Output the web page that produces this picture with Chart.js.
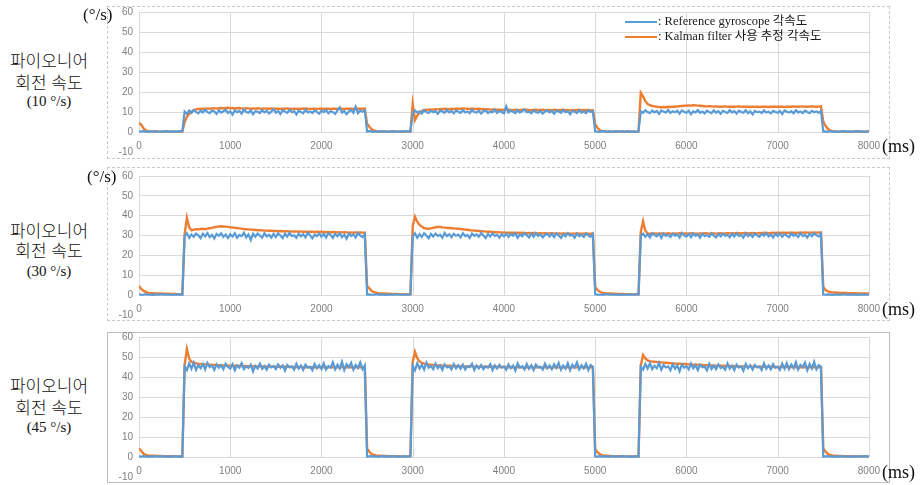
<!DOCTYPE html>
<html lang="ko">
<head>
<meta charset="utf-8">
<title>파이오니어 회전 속도</title>
<script src="https://cdn.jsdelivr.net/npm/chart.js@4.4.1/dist/chart.umd.min.js"></script>
<style>
  html, body { margin: 0; padding: 0; background: #fff; }
  body { width: 922px; height: 485px; position: relative; overflow: hidden; }
  .frame { position: absolute; left: 107px; width: 783px; border: 1px dashed #c8c8c8; box-sizing: border-box; }
  .frame.solid { border-style: solid; border-color: #bdbdbd; }
  canvas { position: absolute; left: 108px; }
  .txt { position: absolute; white-space: nowrap; line-height: 20px; color: #111; }
  .ko { left: 0; width: 98px; text-align: center; font-family: "Noto Sans CJK KR", sans-serif; font-size: 17px; font-weight: 300; }
  .rate { left: 0; width: 98px; text-align: center; font-family: "Liberation Serif", serif; font-size: 15px; }
  .unit { font-family: "Liberation Serif", serif; font-size: 17px; }
  .ms { left: 882px; font-size: 18px; }
  .key { position: absolute; left: 625px; width: 32px; height: 2px; }
  .keytxt { position: absolute; left: 658px; line-height: 16px; font-family: "Liberation Serif", "Noto Sans CJK KR", serif; font-size: 12.5px; color: #1a1a1a; white-space: nowrap; }
</style>
</head>
<body>

<div class="frame" style="top:6px;height:153px"></div>
<div class="frame" style="top:167px;height:154px"></div>
<div class="frame solid" style="top:332px;height:151px"></div>

<canvas id="chart10" width="780" height="164" style="top:0px"></canvas>
<canvas id="chart30" width="780" height="163" style="top:164px"></canvas>
<canvas id="chart45" width="780" height="164" style="top:325px"></canvas>

<div class="txt ko" style="top:50px">파이오니어</div>
<div class="txt ko" style="top:72px">회전 속도</div>
<div class="txt rate" style="top:91px">(10 °/s)</div>
<div class="txt ko" style="top:220px">파이오니어</div>
<div class="txt ko" style="top:240px">회전 속도</div>
<div class="txt rate" style="top:261px">(30 °/s)</div>
<div class="txt ko" style="top:375px">파이오니어</div>
<div class="txt ko" style="top:397px">회전 속도</div>
<div class="txt rate" style="top:417px">(45 °/s)</div>

<div class="txt unit" style="left:83px;top:5px">(°/s)</div>
<div class="txt unit" style="left:87px;top:167px">(°/s)</div>
<div class="txt unit ms" style="top:136px">(ms)</div>
<div class="txt unit ms" style="top:299px">(ms)</div>
<div class="txt unit ms" style="top:462px">(ms)</div>

<div class="key" id="key0" style="top:21px"></div>
<div class="key" id="key1" style="top:36px"></div>
<div class="keytxt" id="keytxt0" style="top:13px"></div>
<div class="keytxt" id="keytxt1" style="top:28px"></div>

<script>
// sample times (ms), one row = 500 ms
const timeMs = [
  0,25,50,75,100,125,150,175,200,225,250,275,300,325,350,375,400,425,450,475,
  500,525,550,575,600,625,650,675,700,725,750,775,800,825,850,875,900,925,950,975,
  1000,1025,1050,1075,1100,1125,1150,1175,1200,1225,1250,1275,1300,1325,1350,1375,1400,1425,1450,1475,
  1500,1525,1550,1575,1600,1625,1650,1675,1700,1725,1750,1775,1800,1825,1850,1875,1900,1925,1950,1975,
  2000,2025,2050,2075,2100,2125,2150,2175,2200,2225,2250,2275,2300,2325,2350,2375,2400,2425,2450,2475,
  2500,2525,2550,2575,2600,2625,2650,2675,2700,2725,2750,2775,2800,2825,2850,2875,2900,2925,2950,2975,
  3000,3025,3050,3075,3100,3125,3150,3175,3200,3225,3250,3275,3300,3325,3350,3375,3400,3425,3450,3475,
  3500,3525,3550,3575,3600,3625,3650,3675,3700,3725,3750,3775,3800,3825,3850,3875,3900,3925,3950,3975,
  4000,4025,4050,4075,4100,4125,4150,4175,4200,4225,4250,4275,4300,4325,4350,4375,4400,4425,4450,4475,
  4500,4525,4550,4575,4600,4625,4650,4675,4700,4725,4750,4775,4800,4825,4850,4875,4900,4925,4950,4975,
  5000,5025,5050,5075,5100,5125,5150,5175,5200,5225,5250,5275,5300,5325,5350,5375,5400,5425,5450,5475,
  5500,5525,5550,5575,5600,5625,5650,5675,5700,5725,5750,5775,5800,5825,5850,5875,5900,5925,5950,5975,
  6000,6025,6050,6075,6100,6125,6150,6175,6200,6225,6250,6275,6300,6325,6350,6375,6400,6425,6450,6475,
  6500,6525,6550,6575,6600,6625,6650,6675,6700,6725,6750,6775,6800,6825,6850,6875,6900,6925,6950,6975,
  7000,7025,7050,7075,7100,7125,7150,7175,7200,7225,7250,7275,7300,7325,7350,7375,7400,7425,7450,7475,
  7500,7525,7550,7575,7600,7625,7650,7675,7700,7725,7750,7775,7800,7825,7850,7875,7900,7925,7950,7975,
  8000
];

const seriesNames = [': Reference gyroscope 각속도', ': Kalman filter 사용 추정 각속도'];
const yTicks = [-10, 0, 10, 20, 30, 40, 50, 60];

// 10 deg/s run
const gyro10 = [
  0.3,0.2,0.4,0.1,0.3,0.2,0.3,0.4,0.2,0.1,0.3,0.2,0.4,0.3,0.1,0.2,0.3,0.2,0.4,0.3,
  10.2,9.1,10.8,9.6,11.0,10.1,9.3,10.6,9.8,11.2,10.0,9.4,10.7,10.3,9.0,10.9,9.7,10.4,11.1,9.5,
  10.3,8.7,10.9,9.9,10.5,9.2,11.3,10.0,9.6,10.8,8.9,10.4,10.1,9.5,11.0,9.8,10.6,9.3,10.2,11.4,
  9.7,10.5,9.0,10.9,10.2,9.6,11.1,9.9,10.4,8.8,10.7,10.0,9.4,11.2,9.8,10.3,9.5,10.8,10.1,9.2,
  10.6,9.9,11.0,9.3,10.4,10.0,9.1,10.8,12.3,9.7,10.5,8.9,10.2,11.1,9.6,12.6,9.4,10.7,10.1,10.9,
  0.2,0.4,0.3,0.1,0.3,0.2,0.4,0.2,0.3,0.1,0.2,0.4,0.3,0.2,0.1,0.3,0.2,0.4,0.3,0.2,
  9.4,10.8,9.7,10.3,9.2,10.9,10.0,9.5,10.6,9.9,10.4,9.1,10.7,10.2,9.6,11.0,9.8,10.5,9.3,10.8,
  10.1,9.6,10.9,9.8,10.3,9.4,11.1,10.0,9.7,10.6,9.2,10.4,10.8,9.5,10.2,9.9,11.2,9.6,10.5,10.0,
  9.3,12.8,9.8,10.7,10.1,9.5,10.9,9.7,10.4,11.3,9.9,10.2,9.4,10.8,10.0,9.6,10.6,9.2,10.3,10.9,
  9.8,10.5,9.1,10.7,10.2,9.6,11.0,9.9,10.4,8.8,10.6,10.1,9.5,10.9,9.7,10.3,9.4,10.8,10.0,10.5,
  0.3,0.2,0.1,0.3,0.4,0.2,0.3,0.1,0.2,0.4,0.3,0.2,0.3,0.1,0.4,0.2,0.3,0.2,0.1,0.3,
  10.3,9.6,10.9,10.0,9.4,10.7,9.8,10.5,9.1,10.8,10.2,9.7,11.0,9.5,10.4,9.9,10.6,9.2,10.8,10.1,
  9.5,10.6,8.9,10.3,9.8,10.9,9.6,10.2,9.3,10.7,10.0,9.4,10.8,9.7,10.4,9.1,10.6,10.0,9.5,10.9,
  9.8,10.4,9.2,10.7,10.0,9.6,10.9,9.4,10.3,8.8,10.5,9.9,10.2,9.5,10.8,9.7,10.1,9.3,10.6,10.0,
  9.6,10.5,9.0,10.8,10.1,9.7,10.4,9.3,10.9,9.8,10.2,9.5,10.7,10.0,9.4,10.6,9.9,10.3,9.6,10.5,
  0.2,0.3,0.1,0.4,0.2,0.3,0.2,0.1,0.3,0.4,0.2,0.3,0.1,0.2,0.3,0.4,0.2,0.3,0.1,0.2,
  0.3
];
const kalman10 = [
  4.6,3.6,1.8,0.8,0.4,0.3,0.2,0.2,0.3,0.2,0.2,0.1,0.2,0.2,0.3,0.2,0.2,0.1,0.2,0.2,
  5.0,7.6,9.1,10.2,10.9,11.3,11.5,11.6,11.5,11.7,11.8,11.6,11.8,11.9,11.7,11.9,12.0,11.8,12.0,12.1,
  11.9,12.0,11.8,11.9,12.0,11.8,11.7,11.9,11.8,11.6,11.8,11.7,11.9,11.7,11.6,11.8,11.7,11.6,11.8,11.7,
  11.6,11.7,11.5,11.7,11.6,11.8,11.6,11.5,11.7,11.6,11.5,11.7,11.6,11.8,11.6,11.5,11.7,11.6,11.5,11.7,
  11.6,11.5,11.7,11.6,11.5,11.6,11.7,11.5,11.8,11.6,11.5,11.7,11.6,11.7,11.5,11.8,11.6,11.7,11.6,11.7,
  4.2,2.6,1.3,0.7,0.4,0.3,0.2,0.2,0.3,0.2,0.1,0.2,0.2,0.3,0.2,0.2,0.1,0.2,0.2,0.3,
  14.0,6.0,8.2,9.6,10.5,11.0,11.2,11.1,11.3,11.2,11.4,11.3,11.5,11.4,11.6,11.5,11.4,11.6,11.5,11.6,
  11.7,11.6,11.8,11.7,11.6,11.5,11.7,11.6,11.5,11.6,11.4,11.5,11.3,11.4,11.2,11.3,11.1,11.2,11.1,11.0,
  11.1,11.0,11.2,11.0,10.9,11.1,11.0,10.9,11.1,11.0,11.2,11.0,10.9,11.0,11.1,10.9,11.0,11.1,10.9,11.0,
  11.0,10.9,11.1,11.0,10.9,11.0,11.1,10.9,11.0,10.8,11.0,10.9,11.0,11.1,10.9,11.0,10.9,11.0,10.8,10.9,
  4.0,2.1,1.0,0.5,0.3,0.2,0.2,0.3,0.2,0.1,0.2,0.2,0.3,0.2,0.2,0.1,0.2,0.3,0.2,0.2,
  19.6,17.8,15.4,14.0,13.4,13.0,12.8,12.6,12.5,12.4,12.5,12.4,12.6,12.5,12.7,12.6,12.8,12.9,13.0,13.1,
  13.2,13.3,13.2,13.4,13.3,13.2,13.1,13.0,12.9,12.8,12.9,12.8,12.7,12.8,12.7,12.6,12.7,12.8,12.7,12.6,
  12.7,12.6,12.7,12.8,12.7,12.6,12.7,12.6,12.5,12.6,12.7,12.6,12.5,12.6,12.7,12.6,12.5,12.6,12.7,12.6,
  12.6,12.7,12.6,12.5,12.6,12.7,12.6,12.8,12.7,12.6,12.7,12.8,12.7,12.6,12.7,12.8,12.7,12.6,12.7,12.8,
  5.2,3.1,1.6,0.8,0.4,0.3,0.2,0.2,0.3,0.2,0.2,0.1,0.2,0.2,0.3,0.2,0.1,0.2,0.2,0.3,
  0.2
];

// 30 deg/s run
const gyro30 = [
  0.4,0.2,0.3,0.5,0.2,0.3,0.1,0.4,0.3,0.2,0.5,0.3,0.2,0.4,0.1,0.3,0.2,0.4,0.3,0.2,
  29.8,31.2,28.9,30.6,29.4,31.0,30.1,28.7,30.9,29.6,31.3,29.2,30.4,28.5,30.8,29.9,31.1,29.3,30.5,28.8,
  30.7,29.5,31.2,28.9,30.3,29.7,31.4,29.1,30.6,27.8,30.9,29.4,31.0,30.0,28.9,31.2,29.6,30.4,29.0,30.8,
  29.3,31.1,30.0,28.7,30.9,29.5,31.3,29.8,30.2,28.9,31.0,29.6,30.7,29.1,31.4,30.1,28.6,30.5,29.7,31.0,
  29.4,30.8,29.0,31.2,30.3,28.8,30.9,29.6,31.1,29.2,30.5,28.4,31.0,29.8,30.6,29.1,31.3,30.0,29.3,30.7,
  0.3,0.4,0.2,0.3,0.5,0.2,0.4,0.3,0.1,0.3,0.4,0.2,0.3,0.5,0.2,0.3,0.4,0.2,0.3,0.4,
  29.6,31.1,28.9,30.7,29.3,31.2,30.0,28.6,30.8,29.5,31.0,29.8,30.4,28.9,31.3,29.7,30.6,29.2,30.9,29.9,
  30.5,29.1,31.2,29.7,30.3,28.8,31.0,29.9,30.6,29.4,31.3,30.0,28.7,30.8,29.5,31.1,29.8,30.4,29.0,30.7,
  29.6,31.0,29.3,30.8,29.9,31.2,28.9,30.5,29.7,31.1,30.2,29.0,30.9,29.4,31.3,29.8,30.6,29.1,30.3,31.0,
  29.5,30.9,29.2,31.1,30.0,28.8,30.7,29.6,31.2,29.9,30.4,28.9,31.0,29.7,30.5,29.3,31.1,30.0,29.4,30.8,
  0.4,0.3,0.2,0.4,0.3,0.5,0.2,0.3,0.4,0.2,0.3,0.1,0.4,0.3,0.2,0.4,0.3,0.2,0.5,0.3,
  29.9,31.0,29.4,30.7,29.1,31.2,30.2,29.6,30.9,28.8,31.1,29.8,30.4,29.3,31.0,29.9,30.6,29.0,31.3,30.1,
  29.5,30.8,29.2,31.1,29.9,30.5,28.9,31.0,29.7,30.3,29.4,31.2,30.0,29.1,30.8,29.6,31.0,29.8,30.4,29.2,
  30.9,29.5,31.1,29.8,30.3,29.0,31.2,29.7,30.6,29.3,31.0,30.1,29.4,30.8,29.9,31.3,29.6,30.5,29.1,30.9,
  29.8,31.0,29.4,30.7,30.0,29.2,31.1,29.9,30.5,29.3,31.2,29.7,30.4,29.0,30.9,29.6,31.1,30.2,29.5,31.0,
  0.3,0.2,0.4,0.3,0.1,0.3,0.4,0.2,0.3,0.5,0.2,0.3,0.4,0.2,0.3,0.1,0.4,0.3,0.2,0.3,
  0.3
];
const kalman30 = [
  4.6,3.1,2.1,1.6,1.3,1.1,1.0,0.9,0.9,0.8,0.8,0.7,0.7,0.7,0.6,0.6,0.6,0.5,0.5,0.5,
  30.5,39.0,34.2,32.6,33.0,33.2,33.1,33.3,33.4,33.2,33.5,33.7,33.9,34.2,34.4,34.6,34.7,34.6,34.5,34.4,
  34.2,34.1,33.9,33.8,33.6,33.5,33.3,33.2,33.1,33.0,32.9,32.8,32.7,32.7,32.6,32.5,32.5,32.4,32.4,32.3,
  32.3,32.2,32.3,32.2,32.1,32.2,32.1,32.0,32.1,32.0,32.1,32.0,31.9,32.0,31.9,32.0,31.9,31.8,31.9,31.8,
  31.9,31.8,31.7,31.8,31.7,31.8,31.7,31.6,31.7,31.6,31.7,31.6,31.5,31.6,31.5,31.6,31.5,31.6,31.5,31.5,
  4.6,3.4,2.1,1.5,1.2,1.0,0.9,0.8,0.8,0.7,0.7,0.6,0.6,0.6,0.5,0.5,0.5,0.5,0.4,0.4,
  34.8,39.5,37.0,35.4,34.5,33.8,33.5,33.4,33.6,33.9,34.2,34.4,34.3,34.1,34.0,33.9,33.8,33.7,33.6,33.5,
  33.4,33.3,33.2,33.0,32.9,32.7,32.6,32.5,32.4,32.3,32.2,32.1,32.0,31.9,31.9,31.8,31.7,31.7,31.6,31.6,
  31.5,31.5,31.4,31.5,31.4,31.3,31.4,31.3,31.4,31.3,31.2,31.3,31.2,31.3,31.2,31.1,31.2,31.1,31.2,31.1,
  31.1,31.2,31.1,31.0,31.1,31.0,31.1,31.0,31.1,31.0,30.9,31.0,31.1,31.0,30.9,31.0,31.1,31.0,30.9,31.0,
  4.2,2.6,1.7,1.3,1.1,0.9,0.8,0.8,0.7,0.7,0.6,0.6,0.6,0.5,0.5,0.5,0.5,0.4,0.4,0.4,
  31.8,37.2,32.4,31.0,30.9,31.0,31.1,30.9,31.0,31.1,30.9,31.0,31.2,31.0,30.9,31.1,31.0,31.2,31.1,31.0,
  31.1,31.0,31.2,31.1,31.0,30.9,31.1,31.0,31.2,31.1,31.0,31.2,31.1,31.0,31.1,31.2,31.0,31.1,31.2,31.1,
  31.2,31.1,31.3,31.2,31.1,31.2,31.3,31.1,31.2,31.3,31.2,31.1,31.3,31.2,31.4,31.3,31.2,31.3,31.4,31.3,
  31.4,31.3,31.5,31.4,31.3,31.4,31.5,31.4,31.3,31.5,31.4,31.5,31.6,31.5,31.4,31.5,31.6,31.5,31.6,31.5,
  4.1,2.6,1.9,1.6,1.4,1.3,1.2,1.2,1.1,1.1,1.1,1.0,1.0,1.0,1.0,0.9,0.9,0.9,0.9,0.9,
  0.9
];

// 45 deg/s run
const gyro45 = [
  0.3,0.2,0.4,0.3,0.1,0.3,0.2,0.4,0.3,0.2,0.3,0.4,0.2,0.3,0.1,0.3,0.4,0.2,0.3,0.2,
  45.2,43.4,46.8,44.1,47.2,43.6,45.9,44.4,46.5,43.8,47.0,44.9,45.7,43.5,46.3,44.6,45.9,43.9,46.6,45.0,
  44.2,46.4,43.3,45.8,44.7,46.9,43.9,45.3,44.5,46.2,42.8,45.6,44.3,46.7,44.0,45.4,43.6,46.1,44.8,45.5,
  43.9,46.3,44.6,45.8,43.2,46.0,44.9,45.3,43.7,46.6,44.2,45.7,43.5,46.2,44.8,45.1,43.4,46.5,44.4,45.9,
  44.0,46.8,43.6,45.5,44.7,47.4,43.8,46.1,44.3,47.6,43.5,46.4,44.9,47.1,43.7,46.0,44.5,47.3,43.9,45.8,
  0.2,0.3,0.4,0.2,0.3,0.1,0.3,0.4,0.2,0.3,0.2,0.4,0.3,0.2,0.3,0.1,0.4,0.2,0.3,0.3,
  45.6,43.3,46.9,44.2,46.1,43.7,47.2,44.6,45.5,43.9,46.7,44.4,45.8,43.6,46.3,44.8,45.2,43.8,46.5,44.3,
  45.9,44.1,46.2,43.7,45.4,44.9,46.6,43.5,45.7,44.3,46.0,43.9,45.3,44.6,46.4,43.4,45.8,44.2,46.1,44.7,
  45.2,43.6,46.3,44.4,45.7,43.2,46.8,44.7,45.4,43.8,46.5,44.1,45.9,43.5,46.2,44.9,45.1,43.7,46.7,44.3,
  45.8,43.9,46.4,44.5,47.0,43.6,45.7,44.2,46.9,43.4,46.1,44.7,47.3,43.8,45.9,44.3,46.6,43.5,46.0,45.1,
  0.3,0.2,0.4,0.3,0.2,0.3,0.1,0.4,0.2,0.3,0.3,0.2,0.4,0.3,0.2,0.3,0.1,0.3,0.4,0.2,
  45.0,43.7,46.5,44.2,46.9,43.9,45.6,44.4,47.1,43.6,46.0,44.8,45.3,43.4,46.4,44.1,45.8,42.9,46.2,44.6,
  45.4,43.8,46.7,44.3,45.9,43.5,46.1,44.9,45.2,43.3,46.6,44.0,45.7,43.9,46.3,44.5,45.1,43.6,46.8,44.2,
  45.6,43.4,46.2,44.7,45.3,43.1,46.5,44.4,45.9,43.7,46.0,44.8,45.2,43.5,46.9,44.1,45.7,43.8,46.4,44.6,
  45.1,43.6,46.7,44.2,47.0,43.9,46.3,44.5,47.4,43.7,46.1,44.9,47.2,43.4,46.5,44.3,47.6,43.8,46.0,45.2,
  0.2,0.3,0.4,0.2,0.3,0.1,0.3,0.2,0.4,0.3,0.2,0.3,0.1,0.4,0.2,0.3,0.3,0.2,0.4,0.3,
  0.2
];
const kalman45 = [
  4.2,3.0,1.6,1.0,0.8,0.7,0.6,0.6,0.5,0.5,0.5,0.4,0.4,0.4,0.4,0.3,0.3,0.3,0.3,0.3,
  46.0,54.0,49.2,47.6,47.0,46.8,46.6,46.5,46.4,46.3,46.2,46.1,46.0,46.0,45.9,45.9,45.8,45.8,45.7,45.7,
  45.7,45.6,45.6,45.6,45.5,45.5,45.5,45.4,45.4,45.4,45.4,45.3,45.3,45.3,45.3,45.3,45.2,45.2,45.2,45.2,
  45.2,45.1,45.1,45.1,45.1,45.1,45.0,45.0,45.0,45.0,45.0,45.0,44.9,44.9,44.9,44.9,44.9,44.9,44.9,44.9,
  44.9,44.8,44.9,44.8,44.9,44.8,44.9,44.8,44.9,44.8,44.9,44.8,44.9,44.8,44.9,44.8,44.9,44.8,44.9,44.8,
  4.1,2.6,1.5,1.0,0.8,0.7,0.6,0.5,0.5,0.5,0.4,0.4,0.4,0.4,0.3,0.3,0.3,0.3,0.3,0.3,
  47.6,52.6,49.4,47.8,47.1,46.7,46.4,46.2,46.1,46.0,45.9,45.8,45.8,45.7,45.7,45.6,45.6,45.5,45.5,45.5,
  45.4,45.4,45.4,45.3,45.3,45.3,45.3,45.2,45.2,45.2,45.2,45.1,45.1,45.1,45.1,45.1,45.0,45.0,45.0,45.0,
  45.0,45.0,44.9,44.9,44.9,44.9,44.9,44.9,44.9,44.8,44.8,44.8,44.8,44.8,44.8,44.8,44.8,44.8,44.8,44.8,
  44.8,44.8,44.8,44.8,44.8,44.8,44.8,44.8,44.8,44.8,44.8,44.8,44.8,44.8,44.8,44.8,44.8,44.8,44.8,44.8,
  4.0,2.4,1.4,0.9,0.7,0.6,0.5,0.5,0.4,0.4,0.4,0.4,0.3,0.3,0.3,0.3,0.3,0.3,0.3,0.3,
  45.8,51.0,49.3,48.3,47.9,47.7,47.6,47.5,47.4,47.3,47.2,47.1,47.0,46.9,46.8,46.7,46.6,46.6,46.5,46.5,
  46.4,46.3,46.3,46.2,46.1,46.1,46.0,46.0,45.9,45.9,45.8,45.8,45.7,45.7,45.6,45.6,45.6,45.5,45.5,45.5,
  45.4,45.4,45.4,45.3,45.3,45.3,45.3,45.2,45.2,45.2,45.2,45.2,45.1,45.1,45.1,45.1,45.1,45.1,45.0,45.0,
  45.0,45.0,45.0,45.0,45.0,45.0,45.0,44.9,44.9,44.9,44.9,44.9,44.9,44.9,44.9,44.9,44.9,44.9,44.9,44.9,
  4.3,2.7,1.6,1.0,0.8,0.7,0.6,0.5,0.5,0.4,0.4,0.4,0.4,0.3,0.3,0.3,0.3,0.3,0.3,0.3,
  0.3
];

const BLUE = '#5b9bd5';
const ORANGE = '#ed7d31';
const GRID = '#d9d9d9';
const TICK = '#808080';

// legend drawn as html above the first chart
[BLUE, ORANGE].forEach((c, i) => {
  document.getElementById('key' + i).style.background = c;
  document.getElementById('keytxt' + i).textContent = seriesNames[i];
});

// vertical grid lines only run from the top down to the zero line
const timeGrid = {
  id: 'timeGrid',
  beforeDatasetsDraw(chart) {
    const { ctx, chartArea, scales: { x, y } } = chart;
    const zero = Math.round(y.getPixelForValue(0));
    ctx.save();
    ctx.strokeStyle = GRID;
    ctx.lineWidth = 1;
    ctx.beginPath();
    x.ticks.forEach(t => {
      const px = Math.round(x.getPixelForValue(t.value)) + 0.5;
      ctx.moveTo(px, chartArea.top);
      ctx.lineTo(px, zero);
    });
    ctx.stroke();
    ctx.restore();
  }
};

function points(values) {
  return timeMs.map((t, i) => ({ x: t, y: values[i] }));
}

function makeChart(id, gyro, kalman) {
  return new Chart(id, {
    type: 'line',
    data: {
      datasets: [{
        label: seriesNames[0],
        data: points(gyro),
        borderColor: BLUE,
        borderWidth: 2.2,
        pointRadius: 0,
        tension: 0
      }, {
        label: seriesNames[1],
        data: points(kalman),
        borderColor: ORANGE,
        borderWidth: 2.4,
        pointRadius: 0,
        tension: 0
      }]
    },
    options: {
      responsive: false,
      animation: false,
      devicePixelRatio: 1,
      layout: { padding: { top: 12, bottom: 12, left: 0, right: 18 } },
      plugins: { legend: { display: false }, tooltip: { enabled: false } },
      scales: {
        x: {
          type: 'linear',
          position: { y: 0 },
          min: 0,
          max: 8000,
          ticks: {
            stepSize: 1000,
            padding: 8,
            color: TICK,
            font: { family: 'Liberation Sans', size: 10 },
            callback: v => String(v)
          },
          grid: { display: false, drawTicks: false },
          border: { display: false }
        },
        y: {
          min: yTicks[0],
          max: yTicks[yTicks.length - 1],
          afterBuildTicks: s => { s.ticks = yTicks.map(v => ({ value: v })); },
          afterFit: s => { s.width = 31; },
          ticks: { padding: 6, color: TICK, font: { family: 'Liberation Sans', size: 10 } },
          grid: {
            drawTicks: false,
            color: c => (c.tick && c.tick.value === yTicks[0]) ? 'rgba(0,0,0,0)' : GRID
          },
          border: { display: false }
        }
      }
    },
    plugins: [timeGrid]
  });
}

makeChart('chart10', gyro10, kalman10);
makeChart('chart30', gyro30, kalman30);
makeChart('chart45', gyro45, kalman45);
</script>
</body>
</html>
